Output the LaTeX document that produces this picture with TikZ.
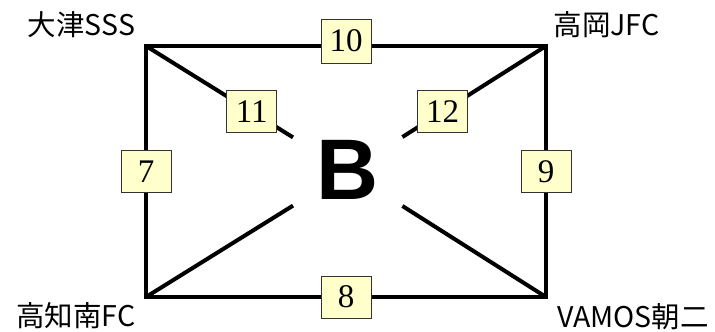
\documentclass[tikz,border=0pt]{standalone}
\usepackage{fontspec}
\setmainfont{Liberation Serif}
\newfontfamily\jpfont{Noto Sans CJK JP}
\newfontfamily\bigfont{Liberation Sans}
\definecolor{boxyellow}{HTML}{FFFFCC}
\tikzstyle{num}=[draw=black!80,fill=boxyellow,line width=0.9pt,minimum width=50pt,minimum height=42pt,inner sep=0pt,font=\fontsize{33}{33}\selectfont]
\tikzstyle{team}=[inner sep=0pt,font=\jpfont\fontsize{28.5}{28.5}\selectfont]

\begin{document}
\begin{tikzpicture}[x=1pt,y=-1pt,line width=4pt]
\useasboundingbox (0,0) rectangle (715,332);

\coordinate (tl) at (146, 46);
\coordinate (tr) at (546, 46);
\coordinate (bl) at (146, 297);
\coordinate (br) at (546, 297);

\node[minimum width=106pt, minimum height=65pt, inner sep=0pt, font=\bigfont\bfseries\fontsize{86}{86}\selectfont] (b) at (348, 171.5) {\raisebox{4pt}{B}};

\node[team] (otsu) at (81.5, 25) {大津SSS};
\node[team] (takaoka) at (606.5, 25) {高岡JFC};
\node[team] (kochi) at (76, 316) {高知南FC};
\node[team] (vamos) at (633, 317) {VAMOS朝二};

\draw[line join=miter] (tl) -- node[num, yshift=5pt, minimum height=44pt] {10} (tr)
  -- node[num] {9} (br) -- node[num] {8} (bl) -- node[num] {7} cycle;

\draw (tl) -- node[num, pos=0.72] {11} (b);
\draw (tr) -- node[num, pos=0.72] {12} (b);
\draw (bl) -- (b);
\draw (br) -- (b);

\end{tikzpicture}
\end{document}
